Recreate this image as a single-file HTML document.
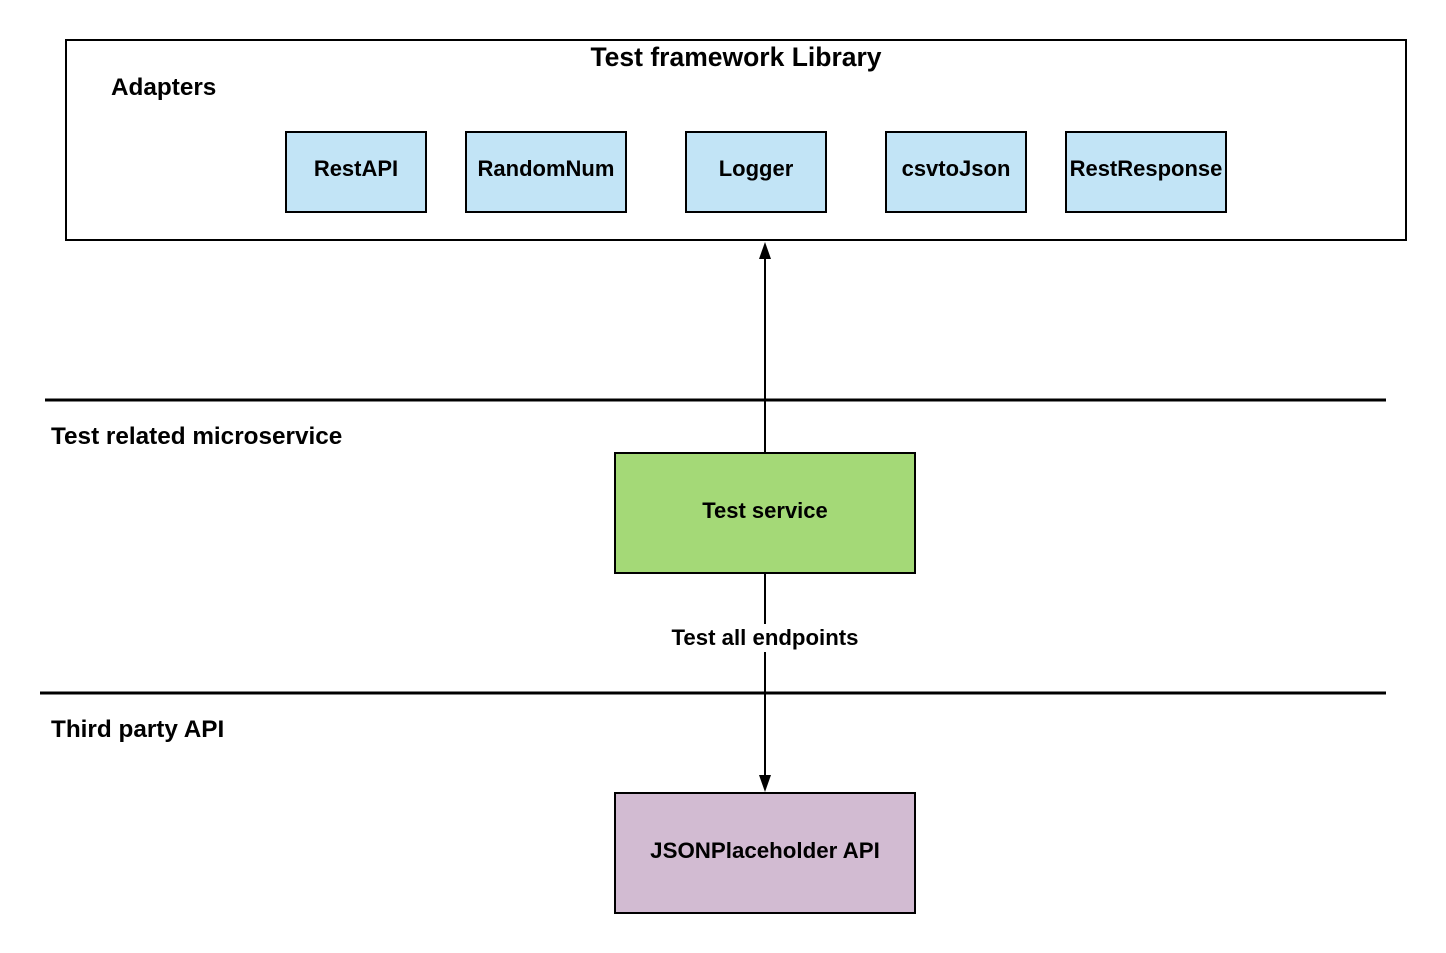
<!DOCTYPE html>
<html><head><meta charset="utf-8"><style>
html,body{margin:0;padding:0;background:#fff;}
svg{display:block;}
text{font-family:"Liberation Sans",Arial,sans-serif;font-weight:bold;fill:#000;}
</style></head><body>
<svg width="1446" height="953" viewBox="0 0 1446 953" xmlns="http://www.w3.org/2000/svg">
<rect x="66" y="40" width="1340" height="200" fill="#fff" stroke="#000" stroke-width="2"/>
<text x="736" y="66" font-size="26.5" text-anchor="middle">Test framework Library</text>
<text x="111" y="95" font-size="24.3">Adapters</text>
<g fill="#c2e4f6" stroke="#000" stroke-width="2">
<rect x="286" y="132" width="140" height="80"/>
<rect x="466" y="132" width="160" height="80"/>
<rect x="686" y="132" width="140" height="80"/>
<rect x="886" y="132" width="140" height="80"/>
<rect x="1066" y="132" width="160" height="80"/>
</g>
<g font-size="22" text-anchor="middle">
<text x="356" y="176">RestAPI</text>
<text x="546" y="176">RandomNum</text>
<text x="756" y="176">Logger</text>
<text x="956" y="176">csvtoJson</text>
<text x="1146" y="176">RestResponse</text>
</g>
<line x1="45" y1="400" x2="1386" y2="400" stroke="#000" stroke-width="3"/>
<line x1="40" y1="693" x2="1386" y2="693" stroke="#000" stroke-width="3"/>
<text x="51" y="444" font-size="24.3">Test related microservice</text>
<text x="51" y="737" font-size="24.3">Third party API</text>
<line x1="765" y1="453" x2="765" y2="256" stroke="#000" stroke-width="2"/>
<polygon points="765,242 759,259 771,259" fill="#000"/>
<rect x="615" y="453" width="300" height="120" fill="#a4d977" stroke="#000" stroke-width="2"/>
<text x="765" y="518" font-size="22" text-anchor="middle">Test service</text>
<line x1="765" y1="573" x2="765" y2="778" stroke="#000" stroke-width="2"/>
<polygon points="765,792 759,775 771,775" fill="#000"/>
<rect x="666" y="624" width="198" height="28" fill="#fff"/>
<text x="765" y="645" font-size="22.2" text-anchor="middle">Test all endpoints</text>
<rect x="615" y="793" width="300" height="120" fill="#d2bbd2" stroke="#000" stroke-width="2"/>
<text x="765" y="858" font-size="22.3" text-anchor="middle">JSONPlaceholder API</text>
</svg>
</body></html>
